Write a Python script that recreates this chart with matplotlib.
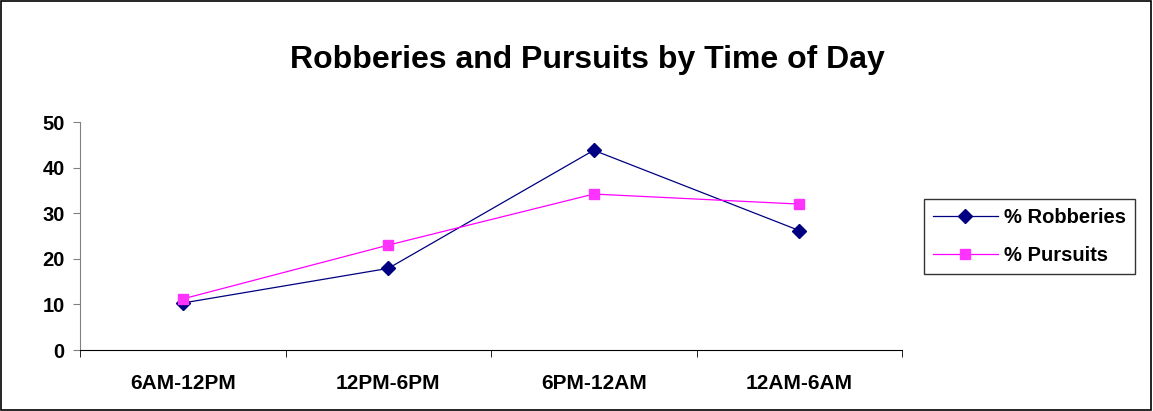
import matplotlib
matplotlib.use('Agg')
import matplotlib.pyplot as plt
from matplotlib.patches import Rectangle

plt.rcParams['font.family'] = ['Liberation Sans', 'DejaVu Sans']

categories = ['6AM-12PM', '12PM-6PM', '6PM-12AM', '12AM-6AM']
robberies = [10.3, 17.9, 43.8, 26.2]
pursuits = [11.2, 23.0, 34.2, 32.0]
yticks = [0, 10, 20, 30, 40, 50]

fig = plt.figure(figsize=(11.53, 4.11), dpi=100)
ax = fig.add_axes([80/1153, 61/411, 822/1153, 228/411])

x = range(len(categories))
ax.plot(x, robberies, color='#000080', lw=0.9, marker='D', ms=7,
        mfc='#000080', mec='#000080', label='% Robberies')
ax.plot(x, pursuits, color='#FF00FF', lw=0.9, marker='s', ms=7,
        mfc='#FF33FF', mec='#FF33FF', label='% Pursuits')

ax.set_xlim(-0.5, 3.5)
ax.set_ylim(0, 50)
ax.set_yticks(yticks)
ax.set_yticklabels([str(v) for v in yticks], fontsize=14.5, fontweight='bold')
ax.set_xticks(list(x))
ax.set_xticklabels(categories, fontsize=15, fontweight='bold')
ax.tick_params(axis='x', which='major', length=0, pad=17)
ax.set_xticks([-0.5, 0.5, 1.5, 2.5, 3.5], minor=True)
ax.tick_params(axis='x', which='minor', length=5, direction='out', color='black')
ax.tick_params(axis='y', length=5, direction='out', color='#808080', pad=6)

for s in ['top', 'right']:
    ax.spines[s].set_visible(False)
ax.spines['left'].set_color('#808080')
ax.spines['bottom'].set_color('black')

fig.text(587/1153, 1 - 60/411, 'Robberies and Pursuits by Time of Day',
         ha='center', va='center', fontsize=23, fontweight='bold')

leg = fig.legend(loc='upper left', bbox_to_anchor=(924/1153, 1 - 199/411),
                 frameon=True, fancybox=False, edgecolor='black',
                 prop={'size': 14.5, 'weight': 'bold'}, handlelength=3.2,
                 borderpad=0.45, labelspacing=0.95, handletextpad=0.3,
                 borderaxespad=0)
leg.get_frame().set_linewidth(1.0)

fig.patches.append(Rectangle((0.001, 0.003), 0.997, 0.995, transform=fig.transFigure,
                             fill=False, edgecolor='black', lw=1.2))

fig.savefig('out.png', dpi=100)
